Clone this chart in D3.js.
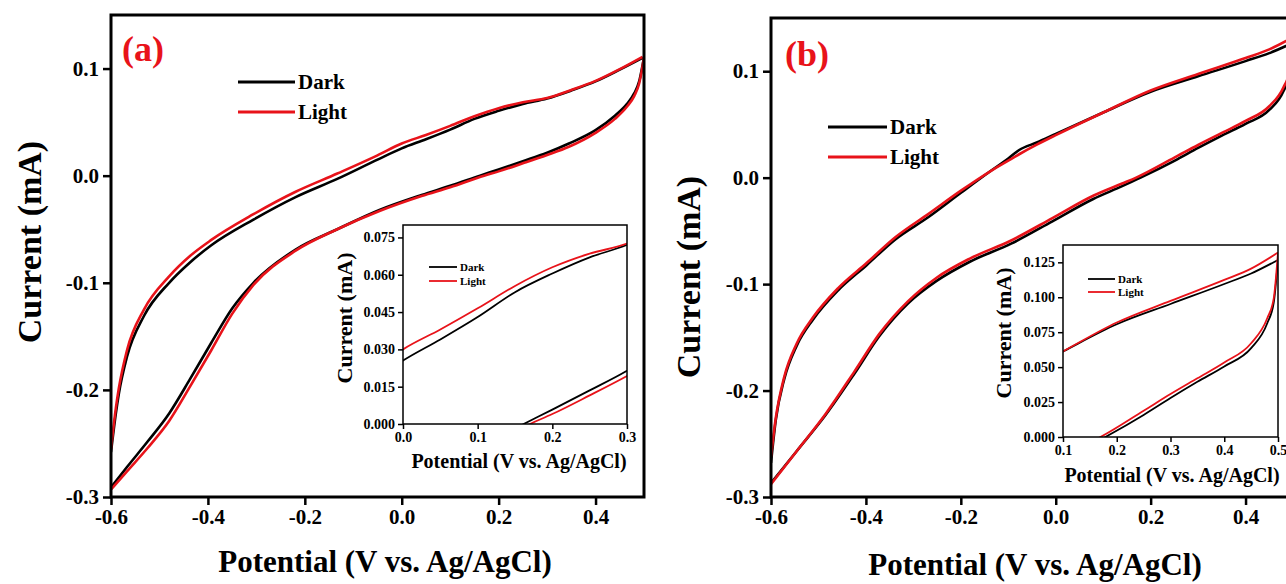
<!DOCTYPE html>
<html>
<head>
<meta charset="utf-8">
<script src="https://cdn.jsdelivr.net/npm/d3@7"></script>
<style>
  html, body { margin: 0; padding: 0; background: #fff; overflow: hidden; }
</style>
</head>
<body>
<div id="chart"></div>
<script>
// CV loops, [potential (V), current (mA)], each branch sorted by potential
const aDarkUpper = [[-0.600,-0.258],[-0.590,-0.222],[-0.584,-0.204],[-0.567,-0.169],[-0.532,-0.131],[-0.480,-0.100],[-0.437,-0.081],[-0.393,-0.065],[-0.306,-0.041],[-0.219,-0.020],[-0.133,-0.003],[-0.050,0.015],[0.000,0.0255],[0.050,0.034],[0.100,0.043],[0.150,0.053],[0.200,0.0605],[0.250,0.067],[0.300,0.072],[0.350,0.0795],[0.400,0.088],[0.450,0.099],[0.497,0.110]];
const aLightUpper = [[-0.600,-0.255],[-0.590,-0.217],[-0.584,-0.199],[-0.567,-0.163],[-0.532,-0.125],[-0.480,-0.094],[-0.437,-0.075],[-0.393,-0.060],[-0.306,-0.036],[-0.219,-0.015],[-0.133,0.002],[-0.050,0.019],[0.000,0.030],[0.050,0.038],[0.100,0.0465],[0.150,0.0555],[0.200,0.063],[0.250,0.0685],[0.300,0.0725],[0.350,0.080],[0.400,0.0885],[0.450,0.0995],[0.497,0.111]];
const aDarkLower = [[-0.600,-0.291],[-0.567,-0.272],[-0.524,-0.248],[-0.480,-0.222],[-0.437,-0.190],[-0.393,-0.156],[-0.350,-0.124],[-0.306,-0.100],[-0.219,-0.069],[-0.133,-0.050],[-0.046,-0.032],[0.041,-0.018],[0.100,-0.0095],[0.1616,0],[0.200,0.0058],[0.250,0.0135],[0.300,0.0214],[0.345,0.030],[0.400,0.0425],[0.440,0.056],[0.465,0.067],[0.480,0.077],[0.490,0.088],[0.497,0.103],[0.500,0.110]];
const aLightLower = [[-0.600,-0.293],[-0.567,-0.276],[-0.524,-0.254],[-0.480,-0.229],[-0.437,-0.197],[-0.393,-0.163],[-0.350,-0.129],[-0.306,-0.102],[-0.219,-0.070],[-0.133,-0.050],[-0.046,-0.033],[0.041,-0.019],[0.100,-0.0108],[0.170,0],[0.200,0.004],[0.250,0.0115],[0.300,0.0193],[0.345,0.027],[0.400,0.040],[0.440,0.053],[0.465,0.0645],[0.480,0.0745],[0.490,0.086],[0.497,0.102],[0.500,0.111]];

const bDarkUpper = [[-0.600,-0.268],[-0.590,-0.228],[-0.572,-0.189],[-0.546,-0.158],[-0.511,-0.133],[-0.459,-0.106],[-0.398,-0.082],[-0.338,-0.058],[-0.268,-0.037],[-0.199,-0.014],[-0.138,0.006],[-0.100,0.018],[-0.077,0.026],[-0.040,0.033],[0.000,0.041],[0.100,0.0612],[0.200,0.0807],[0.300,0.0952],[0.400,0.1095],[0.450,0.117],[0.500,0.1267]];
const bLightUpper = [[-0.600,-0.262],[-0.590,-0.226],[-0.572,-0.187],[-0.546,-0.156],[-0.511,-0.131],[-0.459,-0.104],[-0.398,-0.080],[-0.338,-0.056],[-0.268,-0.034],[-0.199,-0.012],[-0.138,0.006],[-0.100,0.016],[-0.077,0.022],[-0.040,0.031],[0.000,0.040],[0.100,0.0612],[0.200,0.0819],[0.300,0.0974],[0.400,0.1124],[0.450,0.1205],[0.500,0.132]];
const bDarkLower = [[-0.600,-0.287],[-0.546,-0.257],[-0.485,-0.223],[-0.424,-0.184],[-0.372,-0.149],[-0.311,-0.118],[-0.251,-0.097],[-0.181,-0.079],[-0.094,-0.062],[-0.007,-0.041],[0.079,-0.020],[0.140,-0.008],[0.1788,0],[0.250,0.0158],[0.300,0.0279],[0.350,0.0395],[0.400,0.0505],[0.450,0.0636],[0.480,0.0814],[0.492,0.096],[0.500,0.1267]];
const bLightLower = [[-0.600,-0.288],[-0.546,-0.257],[-0.485,-0.222],[-0.424,-0.182],[-0.372,-0.147],[-0.311,-0.116],[-0.251,-0.094],[-0.181,-0.076],[-0.094,-0.059],[-0.007,-0.038],[0.079,-0.017],[0.140,-0.0055],[0.1695,0],[0.250,0.0188],[0.300,0.0307],[0.350,0.042],[0.400,0.0533],[0.450,0.0671],[0.480,0.085],[0.492,0.099],[0.500,0.132]];

// tick labels
const mainXTicks = [-0.6, -0.4, -0.2, 0.0, 0.2, 0.4];
const mainYTicks = [-0.3, -0.2, -0.1, 0.0, 0.1];
const insetAXTicks = [0.0, 0.1, 0.2, 0.3];
const insetAYTicks = [0.000, 0.015, 0.030, 0.045, 0.060, 0.075];
const insetBXTicks = [0.1, 0.2, 0.3, 0.4, 0.5];
const insetBYTicks = [0.000, 0.025, 0.050, 0.075, 0.100, 0.125];

const seriesNames = ["Dark", "Light"];
const seriesColors = ["#000000", "#e8131a"];

const FONT = '"Liberation Serif", "Times New Roman", serif';
const W = 1286, H = 584;

const svg = d3.select("#chart").append("svg")
    .attr("width", W)
    .attr("height", H)
    .style("display", "block");

let clipId = 0;

// draws one framed plot (main or inset)
function drawPlot(p) {
    const x = d3.scaleLinear().domain(p.xDomain).range([p.left, p.right]);
    const y = d3.scaleLinear().domain(p.yDomain).range([p.bottom, p.top]);
    const g = svg.append("g");

    if (p.inset) {
        g.append("rect")
            .attr("x", p.left).attr("y", p.top)
            .attr("width", p.right - p.left).attr("height", p.bottom - p.top)
            .attr("fill", "#fff");
    }

    const id = "clip" + (clipId++);
    g.append("clipPath").attr("id", id)
        .append("rect")
        .attr("x", p.left).attr("y", p.top)
        .attr("width", p.right - p.left).attr("height", p.bottom - p.top);

    const line = d3.line()
        .x(d => x(d[0]))
        .y(d => y(d[1]))
        .curve(d3.curveMonotoneX);

    const curves = g.append("g").attr("clip-path", `url(#${id})`);
    p.series.forEach((branches, i) => {
        branches.forEach(b => {
            curves.append("path")
                .datum(b)
                .attr("d", line)
                .attr("fill", "none")
                .attr("stroke", seriesColors[i])
                .attr("stroke-width", p.curveWidth)
                .attr("stroke-linejoin", "round");
        });
    });

    // axes
    const xAxis = g.append("g")
        .attr("transform", `translate(0,${p.bottom})`)
        .call(d3.axisBottom(x).tickValues(p.xTicks).tickFormat(d => d.toFixed(p.xDec))
            .tickSizeInner(p.tickLen).tickSizeOuter(0).tickPadding(p.tickPad));
    const yAxis = g.append("g")
        .attr("transform", `translate(${p.left},0)`)
        .call(d3.axisLeft(y).tickValues(p.yTicks).tickFormat(d => d.toFixed(p.yDec))
            .tickSizeInner(p.tickLen).tickSizeOuter(0).tickPadding(p.tickPad));

    [xAxis, yAxis].forEach(a => {
        a.select(".domain").remove();
        a.selectAll(".tick line").attr("stroke", "#000").attr("stroke-width", p.tickWidth);
        a.selectAll(".tick text")
            .attr("fill", "#000")
            .style("font-family", FONT)
            .style("font-weight", "bold")
            .style("font-size", p.tickFont + "px");
    });

    // frame
    g.append("rect")
        .attr("x", p.left).attr("y", p.top)
        .attr("width", p.right - p.left).attr("height", p.bottom - p.top)
        .attr("fill", "none")
        .attr("stroke", "#000")
        .attr("stroke-width", p.frameWidth);

    // axis titles
    g.append("text")
        .attr("x", p.xTitle[0]).attr("y", p.xTitle[1])
        .attr("text-anchor", "middle")
        .style("font-family", FONT).style("font-weight", "bold")
        .style("font-size", p.titleFont + "px")
        .text("Potential (V vs. Ag/AgCl)");
    g.append("text")
        .attr("transform", `translate(${p.yTitle[0]},${p.yTitle[1]}) rotate(-90)`)
        .attr("text-anchor", "middle")
        .style("font-family", FONT).style("font-weight", "bold")
        .style("font-size", p.yTitleFont + "px")
        .text("Current (mA)");

    // legend
    seriesNames.forEach((name, i) => {
        const ly = p.legend.y + i * p.legend.dy;
        g.append("line")
            .attr("x1", p.legend.x).attr("x2", p.legend.x + p.legend.len)
            .attr("y1", ly).attr("y2", ly)
            .attr("stroke", seriesColors[i])
            .attr("stroke-width", p.legend.width);
        g.append("text")
            .attr("x", p.legend.x + p.legend.len + 3)
            .attr("y", ly)
            .attr("dy", "0.35em")
            .style("font-family", FONT).style("font-weight", "bold")
            .style("font-size", p.legend.font + "px")
            .text(name);
    });

    if (p.tag) {
        g.append("text")
            .attr("x", p.tag[0]).attr("y", p.tag[1])
            .attr("fill", "#e8131a")
            .style("font-family", FONT).style("font-weight", "bold")
            .style("font-size", "36px")
            .text(p.tag[2]);
    }
}

const mainStyle = {
    xDomain: [-0.6, 0.5], yDomain: [-0.3, 0.15],
    xTicks: mainXTicks, yTicks: mainYTicks, xDec: 1, yDec: 1,
    tickLen: 8, tickPad: 4, tickWidth: 2.5, tickFont: 21,
    frameWidth: 3, curveWidth: 2.6, titleFont: 31, yTitleFont: 34
};
const insetStyle = {
    inset: true,
    tickLen: 5, tickPad: 3, tickWidth: 1.5, tickFont: 14,
    frameWidth: 1.5, curveWidth: 1.8, titleFont: 20, yTitleFont: 22
};

// panel (a)
drawPlot(Object.assign({}, mainStyle, {
    left: 111, right: 644, top: 15, bottom: 497,
    series: [[aDarkUpper, aDarkLower], [aLightUpper, aLightLower]],
    xTitle: [385, 572], yTitle: [41, 242],
    legend: { x: 238, y: 82, dy: 30, len: 57, width: 3, font: 21 },
    tag: [122, 61, "(a)"]
}));
drawPlot(Object.assign({}, insetStyle, {
    xDomain: [0, 0.3], yDomain: [0, 0.08],
    xTicks: insetAXTicks, yTicks: insetAYTicks, xDec: 1, yDec: 3,
    left: 403, right: 627, top: 225, bottom: 424,
    series: [[aDarkUpper, aDarkLower], [aLightUpper, aLightLower]],
    xTitle: [519, 468], yTitle: [352, 318],
    legend: { x: 429, y: 267, dy: 14, len: 28, width: 1.8, font: 11 }
}));

// panel (b)
drawPlot(Object.assign({}, mainStyle, {
    left: 771, right: 1293, top: 18, bottom: 497,
    series: [[bDarkUpper, bDarkLower], [bLightUpper, bLightLower]],
    xTitle: [1035, 575], yTitle: [700, 277],
    legend: { x: 828, y: 127, dy: 30, len: 59, width: 3, font: 21 },
    tag: [785, 66, "(b)"]
}));
drawPlot(Object.assign({}, insetStyle, {
    xDomain: [0.1, 0.5], yDomain: [0, 0.1374],
    xTicks: insetBXTicks, yTicks: insetBYTicks, xDec: 1, yDec: 3,
    left: 1063, right: 1278, top: 245, bottom: 437,
    series: [[bDarkUpper, bDarkLower], [bLightUpper, bLightLower]],
    xTitle: [1172, 482], yTitle: [1011, 333],
    legend: { x: 1088, y: 279, dy: 13, len: 27, width: 1.8, font: 11 }
}));
</script>
</body>
</html>
